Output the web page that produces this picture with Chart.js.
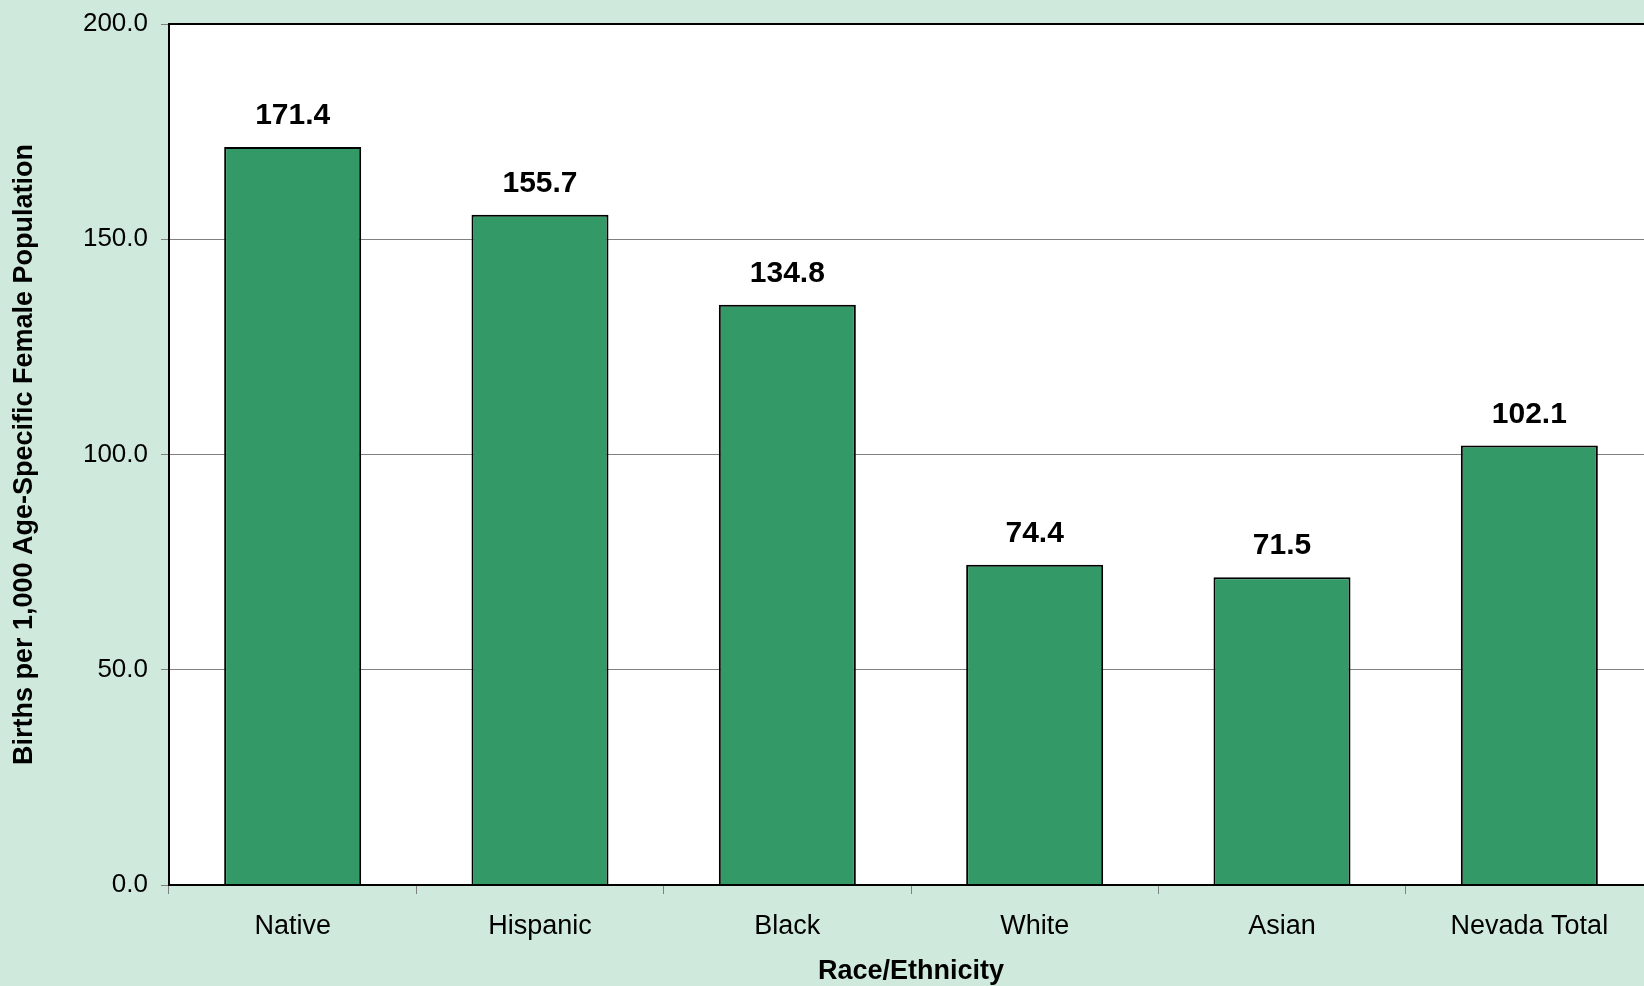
<!DOCTYPE html>
<html>
<head>
<meta charset="utf-8">
<script src="https://cdn.jsdelivr.net/npm/chart.js@4/dist/chart.umd.min.js"></script>
<style>
  html, body { margin: 0; padding: 0; overflow: hidden; background: #cfeadd; }
  #wrap { position: relative; width: 1660px; height: 986px; }
</style>
</head>
<body>
<div id="wrap"><canvas id="birthChart"></canvas></div>
<script>
// Birth rates by race/ethnicity (per 1,000 age-specific female population)
const categories = ['Native', 'Hispanic', 'Black', 'White', 'Asian', 'Nevada Total'];
const birthRates = [171.4, 155.7, 134.8, 74.4, 71.5, 102.1];
const yTicks = [0, 50, 100, 150, 200];

const FONT = "'Liberation Sans', Arial, sans-serif";

// white plot area + black frame + value labels above bars
const plotFrame = {
    id: 'plotFrame',
    beforeDraw(chart) {
        const { ctx, chartArea: a } = chart;
        ctx.save();
        ctx.fillStyle = '#ffffff';
        ctx.fillRect(a.left, a.top, a.right - a.left, a.bottom - a.top);
        ctx.restore();
    },
    afterDatasetsDraw(chart) {
        const { ctx, chartArea: a } = chart;
        ctx.save();
        ctx.strokeStyle = '#000000';
        ctx.lineWidth = 2;
        ctx.strokeRect(a.left, a.top, a.right - a.left, a.bottom - a.top);

        ctx.font = 'bold 30px ' + FONT;
        ctx.fillStyle = '#000000';
        ctx.textAlign = 'center';
        ctx.textBaseline = 'middle';
        chart.getDatasetMeta(0).data.forEach((bar, i) => {
            ctx.fillText(birthRates[i].toFixed(1), bar.x, bar.y - 31);
        });
        ctx.restore();
    }
};

const ctx = document.getElementById('birthChart').getContext('2d');
new Chart(ctx, {
    type: 'bar',
    data: {
        labels: categories,
        datasets: [{
            data: birthRates,
            backgroundColor: '#339966',
            borderColor: '#000000',
            borderWidth: 2,
            categoryPercentage: 1,
            barPercentage: 0.554
        }]
    },
    options: {
        responsive: true,
        maintainAspectRatio: false,
        animation: false,
        layout: { padding: { top: 24, right: 7, bottom: 0, left: 0 } },
        plugins: {
            legend: { display: false },
            tooltip: { enabled: false }
        },
        scales: {
            x: {
                grid: {
                    offset: true,
                    drawOnChartArea: false,
                    drawTicks: true,
                    tickLength: 9,
                    color: '#808080'
                },
                border: { display: true, color: '#808080', width: 1 },
                ticks: {
                    color: '#000000',
                    font: { family: FONT, size: 27 },
                    padding: 16,
                    maxRotation: 0
                },
                title: {
                    display: true,
                    text: 'Race/Ethnicity',
                    color: '#000000',
                    font: { family: FONT, size: 27, weight: 'bold', lineHeight: 1.1 },
                    padding: { top: 0, bottom: 0 }
                },
                afterFit(scale) { scale.height = 101; }
            },
            y: {
                min: 0,
                max: 200,
                afterBuildTicks(scale) { scale.ticks = yTicks.map(v => ({ value: v })); },
                grid: {
                    color: '#808080',
                    lineWidth: 1,
                    tickLength: 8
                },
                border: { display: false },
                ticks: {
                    color: '#000000',
                    font: { family: FONT, size: 26 },
                    padding: 13,
                    callback: v => Number(v).toFixed(1)
                },
                title: {
                    display: true,
                    text: 'Births per 1,000 Age-Specific Female Population',
                    color: '#000000',
                    font: { family: FONT, size: 27, weight: 'bold' },
                    padding: { top: 8, bottom: 0 }
                },
                afterFit(scale) {
                    scale.width = 169;
                    scale.paddingTop = 0;
                    scale.paddingBottom = 0;
                }
            }
        }
    },
    plugins: [plotFrame]
});
</script>
</body>
</html>
